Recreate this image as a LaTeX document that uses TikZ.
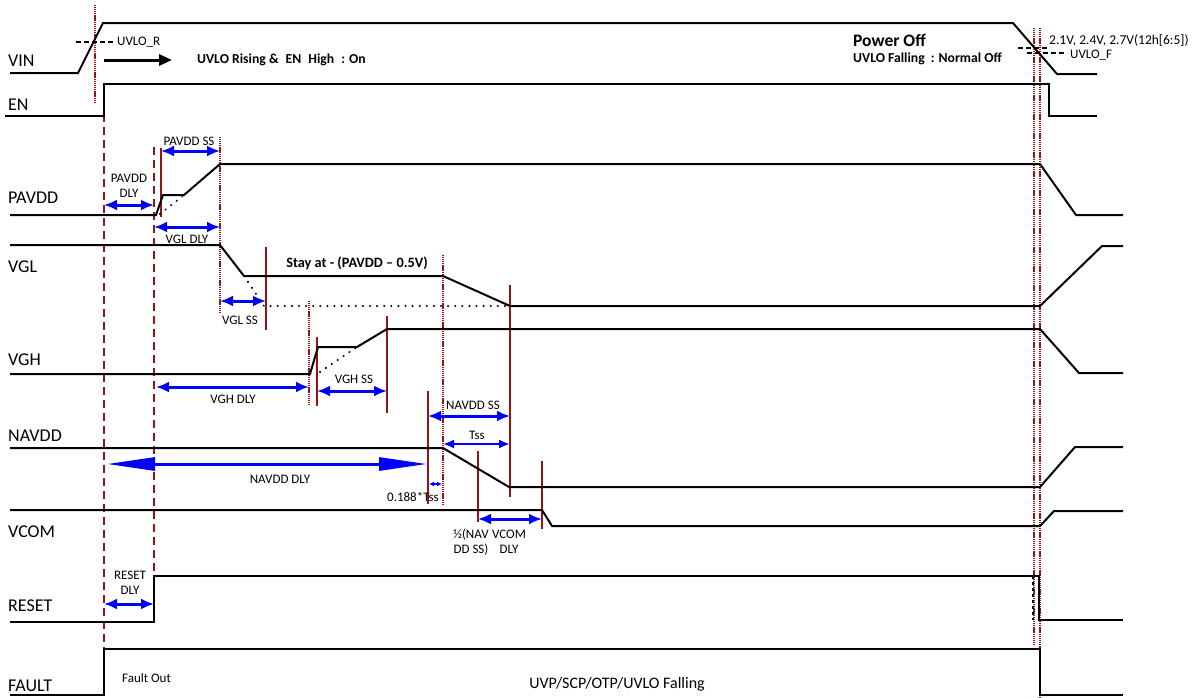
\documentclass[tikz,border=0pt]{standalone}
\usepackage{fontspec}
\setmainfont{Carlito}
\usetikzlibrary{arrows.meta}
\definecolor{markred}{RGB}{150,20,20}
\definecolor{spanblue}{RGB}{0,0,255}
\tikzset{
  wave/.style={line width=2pt, line join=miter},
  dotwave/.style={line width=2.2pt, dash pattern=on 0.1pt off 7pt, line cap=round},
  levelmark/.style={line width=1.6pt, dash pattern=on 5pt off 3pt},
  markdash/.style={draw=markred, line width=2.2pt, dash pattern=on 8pt off 5pt},
  markdot/.style={draw=markred, line width=2.2pt, dash pattern=on 1.2pt off 0.7pt},
  markline/.style={draw=markred, line width=1.8pt},
  timespan/.style={draw=spanblue, line width=3pt, {Latex[length=13pt,width=11pt]}-{Latex[length=13pt,width=11pt]}},
  thinspan/.style={draw=spanblue, line width=2pt, {Latex[length=11pt,width=9pt]}-{Latex[length=11pt,width=9pt]}},
  siglabel/.style={anchor=west, inner sep=0pt, font=\fontsize{18}{21}\selectfont},
  note/.style={inner sep=0pt, font=\fontsize{13}{15.5}\selectfont},
  boldnote/.style={inner sep=0pt, anchor=west, font=\bfseries\fontsize{13.7}{16}\selectfont},
}
\begin{document}
\begin{tikzpicture}[x=1pt,y=-1pt]
      \useasboundingbox (0,0) rectangle (1202,697);

      \foreach \n/\y in {VIN/61,EN/105,PAVDD/198,VGL/267,VGH/360,NAVDD/436,VCOM/532,RESET/606,FAULT/686} {
            \node[siglabel] (sig-\n) at (8,\y) {\n};
      }

      % red time markers
      \foreach \x/\ya/\yb in {104/88/697,154/147/622} {
            \draw[markdash] (\x,\ya) -- (\x,\yb);
      }
      \foreach \x/\ya/\yb in {95/5/103,220/137/312,309/301/405,443/255/505,1034/28/644,1040/28/697} {
            \draw[markdot] (\x,\ya) -- (\x,\yb);
      }
      \foreach \x/\ya/\yb in {161/148/217,266/247/330,317/337/406,387/316/413,428/391/504,510/285/497,478/451/522,542/461/529} {
            \draw[markline] (\x,\ya) -- (\x,\yb);
      }

      % waveforms
      \draw[wave] (10,73) -- (78,73) -- (103,23) -- (1013,23) -- (1057,74) -- (1097,74);
      \draw[wave] (5,116) -- (104,116) -- (104,84) -- (1049,84) -- (1049,116) -- (1097,116);
      \draw[wave] (10,215) -- (156,215) -- (163,195) -- (184,195) -- (220,164) -- (1040,164) -- (1076,215) -- (1123,215);
      \draw[dotwave] (160,214) -- (184,195);
      \draw[wave] (10,245) -- (220,245) -- (244,276) -- (443,276) -- (510,306) -- (1040,306) -- (1102,246) -- (1123,246);
      \draw[dotwave] (244,276) -- (264,306) -- (510,306);
      \draw[wave] (10,374) -- (310,374) -- (318,347) -- (357,347) -- (387,329) -- (1040,329) -- (1079,373) -- (1123,373);
      \draw[dotwave] (320,372) -- (357,347);
      \draw[wave] (10,448) -- (443,448) -- (509,487) -- (1040,487) -- (1075,447) -- (1123,447);
      \draw[wave] (10,510) -- (542,510) -- (552,526) -- (1040,526) -- (1054,511) -- (1123,511);
      \draw[wave] (10,622) -- (154,622) -- (154,576) -- (1039,576) -- (1039,620) -- (1123,620);
      \draw[wave, dashed] (1033,576) -- (1033,620);
      \draw[wave] (10,695) -- (104,695) -- (104,649) -- (1040,649) -- (1040,695) -- (1123,695);

      % UVLO levels
      \draw[levelmark] (76,42) -- (113,42);
      \node[note, anchor=west] (uvlor) at (117,42) {UVLO\_R};
      \draw[levelmark] (1018,48) -- (1049,48);
      \draw[levelmark] (1027,53) -- (1067,53);
      \node[note, anchor=west, font=\fontsize{13.5}{16}\selectfont] (uvlolevels) at (1049,40) {2.1V, 2.4V, 2.7V(12h[6:5])};
      \node[note, anchor=west] (uvlof) at (1070,55) {UVLO\_F};

      \draw[line width=3pt, -{Triangle[length=13pt,width=11pt]}] (104,60) -- (172,60);
      \node[boldnote] (poweron) at (197,60) {UVLO Rising \&\hspace{7pt}EN\hspace{7pt}High\hspace{7pt}: On};
      \node[boldnote, font=\bfseries\fontsize{17.5}{20}\selectfont] (poweroff) at (853,40) {Power Off};
      \node[boldnote] (normaloff) at (853,59) {UVLO Falling\hspace{6pt}: Normal Off};
      \node[inner sep=0pt, font=\bfseries\fontsize{14.3}{17}\selectfont] (stayat) at (357,263) {Stay at - (PAVDD -- 0.5V)};

      % delays and soft starts
      \draw[timespan] (161,151) -- (220,151);
      \node[note] (pavddss) at (189,141) {PAVDD SS};
      \draw[timespan] (104,205) -- (154,205);
      \node[note] (pavdddly) at (129,187) {\begin{tabular}{@{}c@{}}PAVDD\\[-1pt]DLY\end{tabular}};
      \draw[timespan] (154,227) -- (220,227);
      \node[note] (vgldly) at (187,239) {VGL DLY};
      \draw[timespan] (220,301) -- (266,301);
      \node[note] (vglss) at (240,320) {VGL SS};
      \draw[timespan] (156,387) -- (309,387);
      \node[note] (vghdly) at (233,399) {VGH DLY};
      \draw[timespan] (317,391) -- (387,391);
      \node[note] (vghss) at (354,379) {VGH SS};
      \draw[timespan] (428,416) -- (510,416);
      \node[note] (navddss) at (473,405) {NAVDD SS};
      \draw[thinspan] (443,444) -- (510,444);
      \node[note] (tss) at (477,435) {Tss};
      \draw[draw=spanblue, line width=3pt, {Triangle[length=48pt,width=13pt]}-{Triangle[length=48pt,width=13pt]}] (107,464) -- (427,464);
      \node[note] (navdddly) at (280,479) {NAVDD DLY};
      \draw[draw=spanblue, line width=1.2pt, {Latex[length=5pt,width=5pt]}-{Latex[length=5pt,width=5pt]}] (429,484) -- (442,484);
      \node[note] (tssfrac) at (413,497) {0.188*Tss};
      \draw[timespan] (478,519) -- (542,519);
      \node[note] (vcomdly) at (509,543) {\begin{tabular}{@{}c@{}}VCOM\\[-1pt]DLY\end{tabular}};
      \node[note] (halfss) at (471,543) {\begin{tabular}{@{}c@{}}½(NAV\\[-1pt]DD SS)\end{tabular}};
      \draw[timespan] (104,604) -- (154,604);
      \node[note] (resetdly) at (130,584) {\begin{tabular}{@{}c@{}}RESET\\[-1pt]DLY\end{tabular}};

      \node[note, anchor=west] (faultout) at (122,678) {Fault Out};
      \node[inner sep=0pt, font=\fontsize{16}{19}\selectfont] (faultcause) at (617,684) {UVP/SCP/OTP/UVLO Falling};
\end{tikzpicture}
\end{document}
